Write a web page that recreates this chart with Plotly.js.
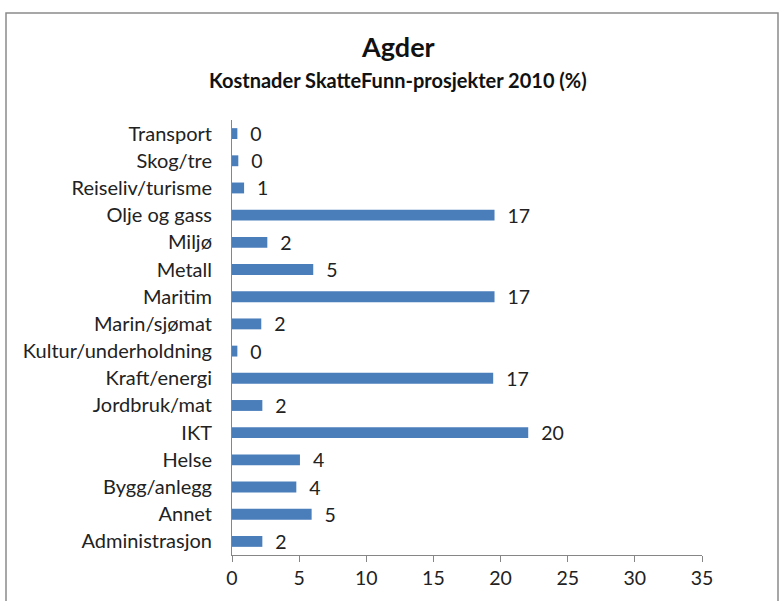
<!DOCTYPE html>
<html>
<head>
<meta charset="utf-8">
<script src="https://cdn.plot.ly/plotly-3.0.1.min.js"></script>
<style>html,body{margin:0;padding:0;background:#fff;}#chart{width:779px;height:601px;}</style>
</head>
<body>
<div id="chart"></div>
<script>
// Categories, bottom to top as drawn
const categories = ["Administrasjon","Annet","Bygg/anlegg","Helse","IKT","Jordbruk/mat","Kraft/energi","Kultur/underholdning","Marin/sjømat","Maritim","Metall","Miljø","Olje og gass","Reiseliv/turisme","Skog/tre","Transport"];
// Bar lengths as read against the drawn axis
const barValues = [2.26, 5.93, 4.79, 5.06, 22.06, 2.26, 19.45, 0.4, 2.18, 19.55, 6.05, 2.63, 19.55, 0.9, 0.47, 0.4];
// Data labels as printed on the chart
const dataLabels = ["2","5","4","4","20","2","17","0","2","17","5","2","17","1","0","0"];
const xTicks = [0,5,10,15,20,25,30,35];

const FONT = "Lato, 'Open Sans', sans-serif";

const trace = {
  type: "bar",
  orientation: "h",
  y: categories,
  x: barValues,
  text: dataLabels,
  texttemplate: "  %{text}",
  textposition: "outside",
  constraintext: "none",
  cliponaxis: false,
  textfont: {family: FONT, size: 19.5, color: "#222"},
  marker: {color: "#4A7EBB"},
  hoverinfo: "skip"
};

const L = 232, R = 77, T = 120, B = 46;
const pw = 779 - L - R, ph = 601 - T - B;

const layout = {
  width: 779, height: 601,
  margin: {l: L, r: R, t: T, b: B, pad: 0},
  paper_bgcolor: "#fff", plot_bgcolor: "#fff",
  showlegend: false,
  bargap: 0.6,
  font: {family: FONT, color: "#222"},
  xaxis: {
    range: [0, 35], tickvals: xTicks, ticktext: xTicks.map(String),
    showgrid: false, zeroline: false, showline: true, linecolor: "#868686", linewidth: 1,
    ticks: "outside", ticklen: 6, tickcolor: "#868686",
    tickfont: {family: FONT, size: 19.5, color: "#222"}, fixedrange: true
  },
  yaxis: {
    type: "category", categoryorder: "array", categoryarray: categories,
    showgrid: false, zeroline: false, showline: true, linecolor: "#868686", linewidth: 1,
    ticks: "", ticklabelstandoff: 15,
    tickfont: {family: FONT, size: 20, color: "#222"}, fixedrange: true
  },
  annotations: [
    {text: "<b>Agder</b>", xref: "paper", yref: "paper",
     x: (398 - L) / pw, y: (601 - B - 47) / ph, xanchor: "center", yanchor: "middle",
     showarrow: false, font: {family: FONT, size: 27, color: "#111"}},
    {text: "<b>Kostnader SkatteFunn-prosjekter 2010 (%)</b>", xref: "paper", yref: "paper",
     x: (398 - L) / pw, y: (601 - B - 80) / ph, xanchor: "center", yanchor: "middle",
     showarrow: false, font: {family: FONT, size: 20, color: "#111"}}
  ],
  shapes: [
    {type: "rect", xref: "paper", yref: "paper", layer: "below",
     x0: (6 - L) / pw, x1: (778 - L) / pw,
     y0: (601 - B - 610) / ph, y1: (601 - B - 13) / ph,
     line: {color: "#8a8a8a", width: 1.5}, fillcolor: "rgba(0,0,0,0)"}
  ]
};

Plotly.newPlot("chart", [trace], layout, {staticPlot: true, displayModeBar: false});
</script>
</body>
</html>
